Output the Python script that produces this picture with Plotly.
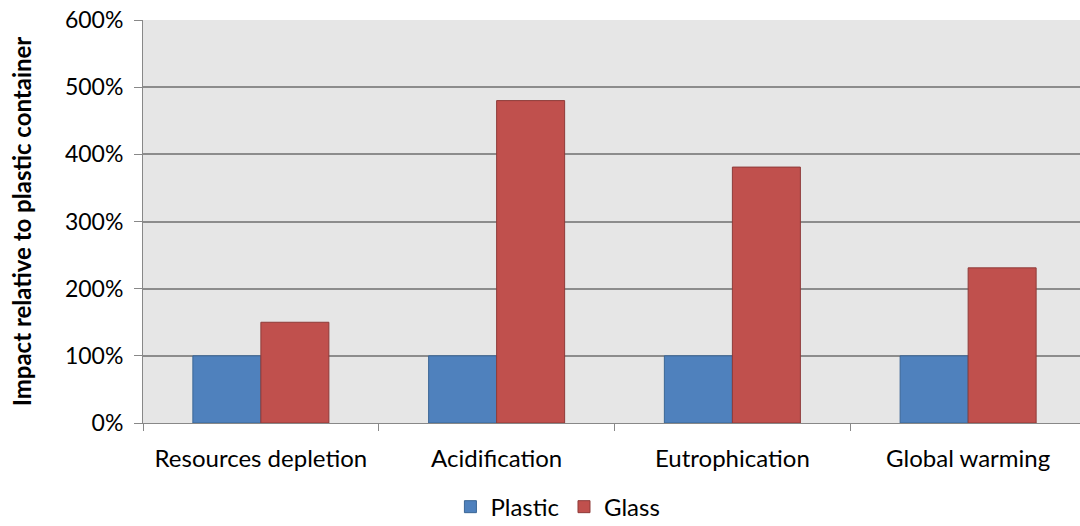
import plotly.graph_objects as go

categories = ["Resources depletion", "Acidification", "Eutrophication", "Global warming"]
plastic = [1.00, 1.00, 1.00, 1.00]
glass = [1.50, 4.80, 3.81, 2.31]
y_ticks = [0, 1, 2, 3, 4, 5, 6]
y_tick_labels = ["0%", "100%", "200%", "300%", "400%", "500%", "600%"]

xpos = list(range(len(categories)))

fig = go.Figure()
fig.add_trace(go.Bar(x=xpos, y=plastic, name="Plastic",
                     marker=dict(color="#4F81BD", line=dict(color="#3B6695", width=1))))
fig.add_trace(go.Bar(x=xpos, y=glass, name="Glass",
                     marker=dict(color="#C0504D", line=dict(color="#8E3B39", width=1))))

fig.update_layout(
    width=1086, height=526,
    margin=dict(l=143, r=0, t=20, b=103, autoexpand=False),
    paper_bgcolor="white",
    plot_bgcolor="#E6E6E6",
    barmode="group",
    bargap=0.423,
    bargroupgap=0,
    font=dict(family="Lato, Open Sans, sans-serif", color="black", size=23),
    legend=dict(orientation="h", x=0.44, xanchor="center", yref="container", y=0.036,
                yanchor="middle", font=dict(size=24), traceorder="normal", itemwidth=30),
    showlegend=True,
)
fig.update_xaxes(
    range=[-0.5, 3.5],
    tickvals=xpos, ticktext=categories,
    ticks="", showgrid=False,
    showline=True, linecolor="#888888", linewidth=1,
    tickfont=dict(size=24),
    minor=dict(dtick=1, tick0=-0.5, ticks="outside", ticklen=7, tickcolor="#888888", showgrid=False),
    zeroline=False,
    automargin=False,
    ticklabelstandoff=14,
)
fig.update_yaxes(
    range=[0, 6],
    tickvals=y_ticks, ticktext=y_tick_labels,
    ticks="outside", ticklen=8, tickcolor="#888888",
    showgrid=True, gridcolor="#8C8C8C", gridwidth=1.5,
    showline=True, linecolor="#888888", linewidth=1,
    zeroline=False,
    automargin=False,
    tickfont=dict(size=23),
    ticklabelstandoff=6,
    title=dict(text="<b>Impact relative to plastic container</b>", font=dict(size=24), standoff=26),
)

fig.write_html("out.html", config={"displayModeBar": False},
               post_script="document.body.style.margin='0';document.body.style.overflow='hidden';")
